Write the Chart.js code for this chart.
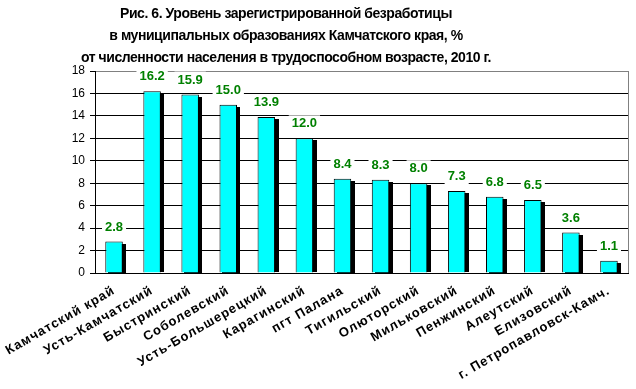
<!DOCTYPE html>
<html>
<head>
<meta charset="utf-8">
<script src="https://cdn.jsdelivr.net/npm/chart.js@4"></script>
<style>
html,body{margin:0;padding:0;background:#fff;}
#wrap{position:relative;width:636px;height:389px;}
#title{position:absolute;left:0;top:2px;width:572px;text-align:center;font:bold 14px "Liberation Sans",Arial,sans-serif;letter-spacing:-0.45px;line-height:22px;color:#000;}
canvas{position:absolute;left:0;top:0;}
</style>
</head>
<body>
<div id="wrap">
<canvas id="c" width="636" height="389"></canvas>
<div id="title">Рис. 6. Уровень зарегистрированной безработицы<br>в муниципальных образованиях Камчатского края, %<br>от численности населения в трудоспособном возрасте, 2010 г.</div>
</div>
<script>
const categories = ["Камчатский край","Усть-Камчатский","Быстринский","Соболевский","Усть-Большерецкий","Карагинский","пгт Палана","Тигильский","Олюторский","Мильковский","Пенжинский","Алеутский","Елизовский","г. Петропавловск-Камч."];
const values = [2.8,16.2,15.9,15.0,13.9,12.0,8.4,8.3,8.0,7.3,6.8,6.5,3.6,1.1];
const yTicks = [0,2,4,6,8,10,12,14,16,18];

const shadowPlugin = {
  id:'shadow',
  beforeDatasetsDraw(chart){
    const ctx=chart.ctx; const meta=chart.getDatasetMeta(0);
    ctx.save();
    ctx.fillStyle='#000';
    meta.data.forEach(el=>{
      const w=el.width;
      ctx.fillRect(Math.round(el.x-w/2)+3, Math.round(el.y)+2, Math.round(w), Math.round(el.base-el.y)-2);
    });
    ctx.restore();
  }
};
const labelPlugin = {
  id:'vlabels',
  afterDatasetsDraw(chart){
    const ctx=chart.ctx; const meta=chart.getDatasetMeta(0);
    ctx.save();
    ctx.font='bold 13px "Liberation Sans", Arial, sans-serif';
    ctx.textAlign='center'; ctx.textBaseline='middle';
    meta.data.forEach((el,i)=>{
      const t=values[i].toFixed(1);
      const x=el.x, y=el.y-15;
      const w=ctx.measureText(t).width+6;
      ctx.fillStyle='#fff'; ctx.fillRect(x-w/2,y-8,w,16);
      ctx.fillStyle='#008000'; ctx.fillText(t,x,y+0.5);
    });
    const a=chart.chartArea;
    ctx.strokeStyle='#808080'; ctx.lineWidth=1;
    ctx.beginPath(); ctx.moveTo(Math.round(a.right)+0.5,a.top); ctx.lineTo(Math.round(a.right)+0.5,a.bottom); ctx.stroke();
    ctx.restore();
  }
};

const chart = new Chart(document.getElementById('c'),{
  type:'bar',
  data:{labels:categories,datasets:[{data:values,backgroundColor:'#00FFFF',borderColor:'#000',borderWidth:1,categoryPercentage:1,barPercentage:0.46}]},
  plugins:[shadowPlugin,labelPlugin],
  options:{
    responsive:false,animation:false,
    layout:{padding:{top:71,right:8,left:0,bottom:0}},
    plugins:{legend:{display:false},title:{display:false},tooltip:{enabled:false}},
    scales:{
      x:{
        grid:{display:false,drawTicks:false},
        border:{color:'#000',width:1},
        ticks:{autoSkip:false,maxRotation:30,minRotation:30,color:'#000',padding:10,
          font:{family:'"Liberation Sans", Arial, sans-serif',size:13,weight:'bold'}},
        afterFit(s){ s.height=116; }
      },
      y:{
        min:0,max:18,
        afterBuildTicks(s){ s.ticks=yTicks.map(v=>({value:v})); },
        grid:{color:(c)=>c.tick && c.tick.value===18?'#808080':'#000',tickLength:5,tickColor:'#000'},
        border:{color:'#000',width:1},
        ticks:{color:'#000',padding:5,font:{family:'"Liberation Sans", Arial, sans-serif',size:12}},
        afterFit(s){ s.width=95; }
      }
    }
  }
});
const xs = chart.scales.x;
const origDrawLabels = xs.drawLabels;
xs.drawLabels = function(area){
  const ctx=this.ctx; ctx.save();
  if ('letterSpacing' in ctx) ctx.letterSpacing='1px';
  origDrawLabels.call(this,area);
  ctx.restore();
};
chart.draw();
</script>
</body>
</html>
